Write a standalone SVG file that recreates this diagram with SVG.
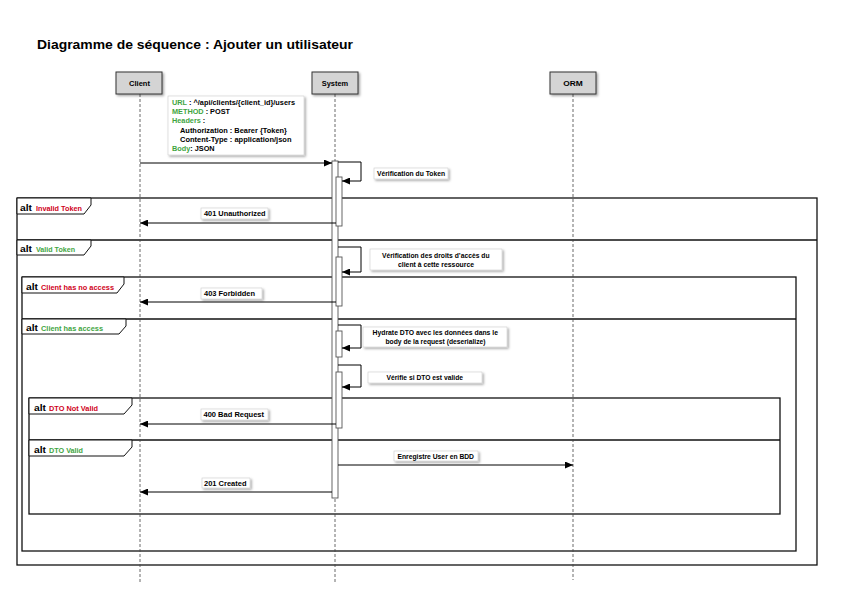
<svg xmlns="http://www.w3.org/2000/svg" width="842" height="595" viewBox="0 0 842 595">
<defs>
<filter id="sh" x="-20%" y="-20%" width="150%" height="170%">
<feDropShadow dx="1.5" dy="1.5" stdDeviation="1" flood-color="#000" flood-opacity="0.35"/>
</filter>
<marker id="ah" markerUnits="userSpaceOnUse" markerWidth="8" markerHeight="7" refX="8" refY="3.5" orient="auto">
<path d="M0,0 L8,3.5 L0,7 z" fill="#000"/>
</marker>
<style>
text{font-family:"Liberation Sans",Arial,sans-serif;font-weight:bold;}
.title{font-size:13px;fill:#000;}
.life{fill:#d4d4d4;stroke:#333;stroke-width:1;filter:url(#sh);}
.lname{font-size:7.5px;fill:#000;text-anchor:middle;}
.ll{stroke:#444;stroke-width:0.8;stroke-dasharray:3 2;fill:none;}
.frame{fill:none;stroke:#111;stroke-width:1.3;}
.tab{fill:#fff;stroke:#111;stroke-width:1;}
.alt{font-size:9.5px;fill:#000;}
.red{font-size:7px;fill:#d0021b;}
.green{font-size:7px;fill:#3fa53f;}
.act{fill:#fff;stroke:#555;stroke-width:0.9;}
.msg{fill:none;stroke:#000;stroke-width:1;marker-end:url(#ah);}
.lbox{fill:#fff;stroke:#ccc;stroke-width:0.6;filter:url(#sh);}
.lt{font-size:6.8px;fill:#000;}
.nt{font-size:7.3px;fill:#000;}
.g{fill:#3fa53f;}
</style>
</defs>
<rect width="842" height="595" fill="#fff"/>
<text class="title" x="37" y="49" textLength="316" lengthAdjust="spacingAndGlyphs">Diagramme de séquence : Ajouter un utilisateur</text>

<g id="frames">
<rect class="frame" x="17" y="198" width="800" height="367"/>
<line class="frame" x1="17" y1="240" x2="817" y2="240"/>
<rect class="frame" x="22" y="277" width="774" height="274"/>
<line class="frame" x1="22" y1="319" x2="796" y2="319"/>
<rect class="frame" x="29" y="398" width="751" height="116"/>
<line class="frame" x1="29" y1="440" x2="780" y2="440"/>
<path class="tab" d="M17,198 H91 V205 L84,214 H17 Z"/>
<text class="alt" x="20" y="211" textLength="12" lengthAdjust="spacingAndGlyphs">alt</text><text class="red" x="36" y="210.5" textLength="46" lengthAdjust="spacingAndGlyphs">Invalid Token</text>
<path class="tab" d="M17,240 H91 V246 L84,255 H17 Z"/>
<text class="alt" x="20" y="252" textLength="12" lengthAdjust="spacingAndGlyphs">alt</text><text class="green" x="36" y="251.5" textLength="39" lengthAdjust="spacingAndGlyphs">Valid Token</text>
<path class="tab" d="M22,277 H124 V284 L117,293 H22 Z"/>
<text class="alt" x="26" y="290" textLength="12" lengthAdjust="spacingAndGlyphs">alt</text><text class="red" x="41" y="289.5" textLength="73" lengthAdjust="spacingAndGlyphs">Client has no access</text>
<path class="tab" d="M22,319 H126 V326 L119,334 H22 Z"/>
<text class="alt" x="26" y="331" textLength="12" lengthAdjust="spacingAndGlyphs">alt</text><text class="green" x="41" y="330.5" textLength="62" lengthAdjust="spacingAndGlyphs">Client has access</text>
<path class="tab" d="M29,398 H132 V405 L124,414 H29 Z"/>
<text class="alt" x="34" y="411" textLength="12" lengthAdjust="spacingAndGlyphs">alt</text><text class="red" x="49" y="410.5" textLength="49" lengthAdjust="spacingAndGlyphs">DTO Not Valid</text>
<path class="tab" d="M29,440 H132 V447 L124,456 H29 Z"/>
<text class="alt" x="34" y="453" textLength="12" lengthAdjust="spacingAndGlyphs">alt</text><text class="green" x="49" y="452.5" textLength="34" lengthAdjust="spacingAndGlyphs">DTO Valid</text>
</g>

<g id="client">
<line class="ll" x1="140" y1="94" x2="140" y2="583"/>
<rect class="life" x="116" y="72" width="46" height="22"/>
<text class="lname" x="139.5" y="86" textLength="21" lengthAdjust="spacingAndGlyphs">Client</text>
</g>
<g id="system">
<line class="ll" x1="335" y1="94" x2="335" y2="583"/>
<rect class="life" x="312" y="72" width="46" height="22"/>
<text class="lname" x="335" y="86" textLength="26.5" lengthAdjust="spacingAndGlyphs">System</text>
</g>
<g id="orm">
<line class="ll" x1="573" y1="94" x2="573" y2="580"/>
<rect class="life" x="550" y="72" width="46" height="22"/>
<text class="lname" x="573" y="86" textLength="19.5" lengthAdjust="spacingAndGlyphs">ORM</text>
</g>

<g id="note">
<rect class="lbox" x="168" y="96" width="136" height="59"/>
<text class="nt" x="172" y="105" textLength="123" lengthAdjust="spacingAndGlyphs"><tspan class="g">URL</tspan> : ^/api/clients/{client_id}/users</text>
<text class="nt" x="172" y="114"><tspan class="g">METHOD</tspan> : POST</text>
<text class="nt" x="172" y="123"><tspan class="g">Headers</tspan> :</text>
<text class="nt" x="180" y="133" textLength="107" lengthAdjust="spacingAndGlyphs">Authorization : Bearer {Token}</text>
<text class="nt" x="180" y="142" textLength="111.5" lengthAdjust="spacingAndGlyphs">Content-Type : application/json</text>
<text class="nt" x="172" y="151"><tspan class="g">Body</tspan>: JSON</text>
</g>

<g id="activations">
<rect class="act" x="332" y="161" width="6" height="337"/>
<rect class="act" x="336" y="177" width="6" height="49"/>
<rect class="act" x="336" y="257" width="6" height="49"/>
<rect class="act" x="336" y="331" width="6" height="26"/>
<rect class="act" x="336" y="372" width="6" height="56"/>
</g>

<g id="connectors">
<line class="msg" x1="140" y1="163" x2="332" y2="163"/>
<polyline class="msg" points="338,162 361,162 361,181 342,181"/>
<line class="msg" x1="336" y1="223" x2="140" y2="223"/>
<polyline class="msg" points="338,247 361,247 361,272 342,272"/>
<line class="msg" x1="336" y1="302" x2="140" y2="302"/>
<polyline class="msg" points="338,325 361,325 361,348 342,348"/>
<polyline class="msg" points="338,365 361,365 361,387 342,387"/>
<line class="msg" x1="336" y1="424" x2="140" y2="424"/>
<line class="msg" x1="338" y1="465" x2="573" y2="465"/>
<line class="msg" x1="332" y1="492" x2="140" y2="492"/>
</g>

<g id="labels">
<rect class="lbox" x="374" y="168" width="74" height="11"/>
<text class="lt" x="377" y="176" textLength="68" lengthAdjust="spacingAndGlyphs">Vérification du Token</text>
<rect class="lbox" x="201" y="208" width="67" height="11"/>
<text class="lt" x="204" y="216" textLength="61.5" lengthAdjust="spacingAndGlyphs">401 Unauthorized</text>
<rect class="lbox" x="370" y="249" width="132" height="21"/>
<text class="lt" x="382" y="257.5" textLength="107.5" lengthAdjust="spacingAndGlyphs">Vérification des droits d’accès du</text>
<text class="lt" x="398" y="266.5" textLength="76" lengthAdjust="spacingAndGlyphs">client à cette ressource</text>
<rect class="lbox" x="201" y="288" width="61" height="11"/>
<text class="lt" x="204" y="296" textLength="51" lengthAdjust="spacingAndGlyphs">403 Forbidden</text>
<rect class="lbox" x="363" y="327" width="144" height="20"/>
<text class="lt" x="372.5" y="335" textLength="125.5" lengthAdjust="spacingAndGlyphs">Hydrate DTO avec les données dans le</text>
<text class="lt" x="385.5" y="344" textLength="100" lengthAdjust="spacingAndGlyphs">body de la request (deserialize)</text>
<rect class="lbox" x="368" y="372" width="114" height="11"/>
<text class="lt" x="386.5" y="380" textLength="76.5" lengthAdjust="spacingAndGlyphs">Vérifie si DTO est valide</text>
<rect class="lbox" x="201" y="409" width="67" height="11"/>
<text class="lt" x="203.5" y="417" textLength="60.5" lengthAdjust="spacingAndGlyphs">400 Bad Request</text>
<rect class="lbox" x="394" y="451" width="84" height="10"/>
<text class="lt" x="397.5" y="458.5" textLength="76.5" lengthAdjust="spacingAndGlyphs">Enregistre User en BDD</text>
<rect class="lbox" x="202" y="478" width="48" height="10"/>
<text class="lt" x="204" y="485.5" textLength="42.5" lengthAdjust="spacingAndGlyphs">201 Created</text>
</g>
</svg>
